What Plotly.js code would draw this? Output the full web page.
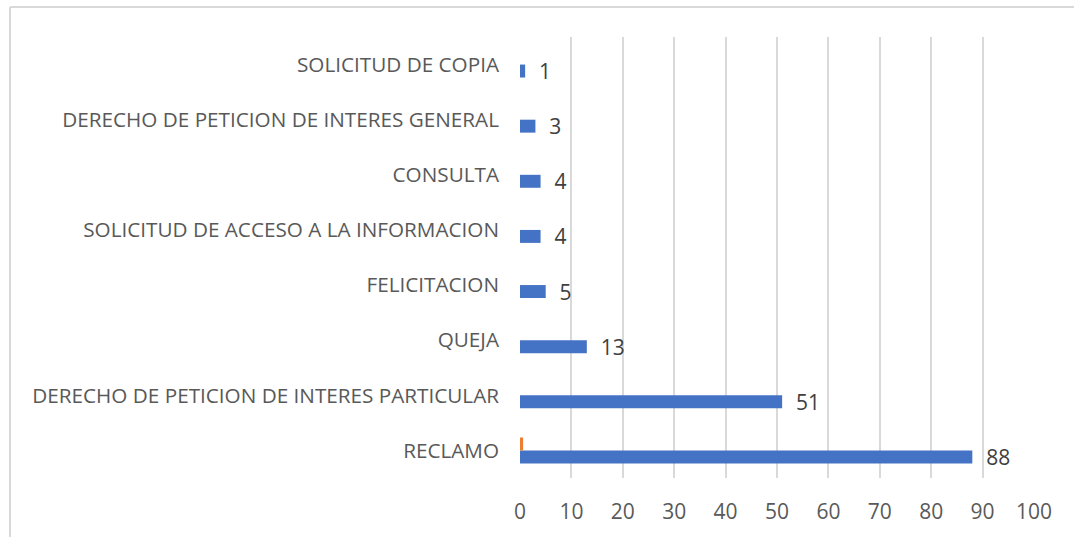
<!DOCTYPE html>
<html><head><meta charset="utf-8">
<script src="https://cdn.plot.ly/plotly-3.0.1.min.js"></script>
<style>html,body{margin:0;padding:0;background:#fff}#c{width:1074px;height:537px}</style>
</head><body><div id="c"></div>
<script>
const categories = ["RECLAMO","DERECHO DE PETICION DE INTERES PARTICULAR","QUEJA","FELICITACION","SOLICITUD DE ACCESO A LA INFORMACION","CONSULTA","DERECHO DE PETICION DE INTERES GENERAL","SOLICITUD DE COPIA"];
const seriesA = [88,51,13,5,4,4,3,1];
const seriesB = [0.6,0,0,0,0,0,0,0];
const xTicks = [0,10,20,30,40,50,60,70,80,90,100];

const font = "Open Sans, sans-serif";
const traces = [
  {type:"bar", orientation:"h", y:categories, x:seriesA, marker:{color:"#4472C4"},
   text:seriesA.map(v=>"  "+v), textposition:"outside", cliponaxis:false, constraintext:"none",
   textfont:{family:font,size:21,color:"#404040"}, hoverinfo:"x+y"},
  {type:"bar", orientation:"h", y:categories, x:seriesB, marker:{color:"#ED7D31"}, hoverinfo:"x+y"}
];
const layout = {
  width:1074, height:537, paper_bgcolor:"#fff", plot_bgcolor:"#fff",
  margin:{l:520,r:40,t:37,b:59}, showlegend:false, barmode:"group", bargap:0.53, bargroupgap:0,
  font:{family:font,color:"#595959",size:16},
  xaxis:{range:[0,100], tickvals:xTicks, showgrid:true, gridcolor:"#d9d9d9", gridwidth:2,
    zeroline:false, showline:false, ticks:"", ticklabelstandoff:19, tickfont:{size:21,color:"#595959"}, fixedrange:true},
  yaxis:{type:"category", categoryorder:"array", categoryarray:categories, showgrid:false, zeroline:false,
    showline:false, ticks:"", ticklabelstandoff:20, tickfont:{size:20.7,color:"#595959"}, fixedrange:true},
  shapes:[
    {type:"line", xref:"paper", yref:"paper", x0:-510/514, x1:1.1, y0:(537-7-59)/441, y1:(537-7-59)/441, line:{color:"#d9d9d9",width:2}},
    {type:"line", xref:"paper", yref:"paper", x0:-510/514, x1:-510/514, y0:(537-7-59)/441, y1:-59/441, line:{color:"#d9d9d9",width:2}}
  ]
};
Plotly.newPlot("c", traces, layout, {displayModeBar:false, staticPlot:true});
</script></body></html>
